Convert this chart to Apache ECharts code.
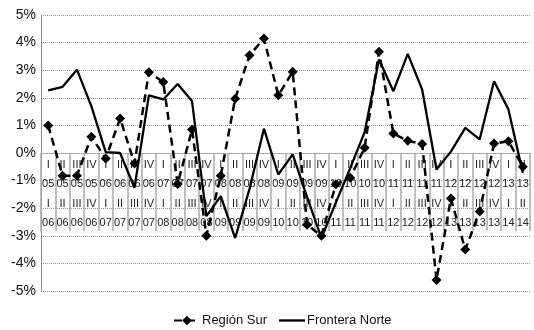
<!DOCTYPE html>
<html>
<head>
<meta charset="utf-8">
<script src="https://cdn.jsdelivr.net/npm/echarts@6/dist/echarts.min.js"></script>
<style>
  html, body { margin: 0; padding: 0; background: #fff; }
  #chart { width: 534px; height: 330px; }
</style>
</head>
<body>
<div id="chart"></div>
<script>
// trimestre / año (fila de arriba) y trimestre / año (fila de abajo)
var quarters = ['I','II','III','IV','I','II','III','IV','I','II','III','IV','I','II','III','IV','I','II','III','IV',
  'I','II','III','IV','I','II','III','IV','I','II','III','IV','I','II'];
var yearsFrom = ['05','05','05','05','06','06','06','06','07','07','07','07','08','08','08','08','09','09','09','09',
  '10','10','10','10','11','11','11','11','12','12','12','12','13','13'];
var yearsTo = ['06','06','06','06','07','07','07','07','08','08','08','08','09','09','09','09','10','10','10','10',
  '11','11','11','11','12','12','12','12','13','13','13','13','14','14'];

var regionSur = [1.0, -0.82, -0.82, 0.59, -0.2, 1.25, -0.38, 2.93, 2.57, -1.12, 0.85, -3.0, -0.82, 1.97, 3.54, 4.15,
  2.09, 2.94, -2.6, -3.0, -1.13, -0.9, 0.19, 3.67, 0.71, 0.44, 0.33, -4.6, -1.65, -3.5, -2.12, 0.34, 0.43, -0.5];
var fronteraNorte = [2.27, 2.4, 3.02, 1.7, 0.03, 0.0, -1.26, 2.09, 1.94, 2.5, 1.88, -2.29, -1.56, -3.08, -1.3, 0.88,
  -0.78, -0.05, -1.6, -3.08, -1.8, -0.55, 0.75, 3.39, 2.24, 3.59, 2.3, -0.6, 0.05, 0.91, 0.49, 2.6, 1.58, -0.72];

var categories = quarters.map(function (q, i) {
  return q + '\n' + yearsFrom[i] + '\n' + q + '\n' + yearsTo[i];
});

var chart = echarts.init(document.getElementById('chart'), null, { renderer: 'canvas' });

var option = {
  backgroundColor: '#ffffff',
  animation: false,
  textStyle: { fontFamily: 'Liberation Sans, Arial, sans-serif' },
  grid: {
    left: 41, right: 4, top: 15, bottom: 39,
    containLabel: false,
    outerBoundsMode: 'none'
  },
  legend: {
    top: 309,
    left: 168,
    itemWidth: 26,
    itemHeight: 12,
    itemGap: 12,
    textStyle: { fontSize: 13, color: '#111', padding: [0, 0, 0, -3] },
    data: [
      { name: 'Región Sur' },
      { name: 'Frontera Norte', icon: 'path://M0,0L26,0L26,2.4L0,2.4Z', itemStyle: { color: '#000' } }
    ]
  },
  xAxis: {
    type: 'category',
    data: categories,
    boundaryGap: true,
    position: 'bottom',
    offset: -138,  // la tabla de fechas cuelga de la línea del 0%
    axisLine: { onZero: false, lineStyle: { color: '#999', width: 1, type: 'dotted' } },
    axisTick: {
      show: true,
      interval: 0,
      length: 78,
      lineStyle: { color: '#aaa', width: 1.5 }
    },
    axisLabel: {
      interval: 0,
      margin: 2,
      fontSize: 11,
      lineHeight: 19.4,
      color: '#222',
      hideOverlap: false
    },
    splitLine: { show: false }
  },
  yAxis: {
    type: 'value',
    min: -5,
    max: 5,
    interval: 1,
    axisLine: { show: true, lineStyle: { color: '#888', width: 1 } },
    axisTick: { show: false },
    axisLabel: {
      formatter: '{value}%',
      fontSize: 14,
      color: '#111',
      margin: 5
    },
    splitLine: { show: true, lineStyle: { color: '#999', type: 'dotted', width: 1 } }
  },
  series: [
    {
      name: 'Región Sur',
      type: 'line',
      data: regionSur,
      symbol: 'diamond',
      symbolSize: 10,
      itemStyle: { color: '#000' },
      lineStyle: { color: '#000', width: 2.5, type: [8, 5] },
      z: 3
    },
    {
      name: 'Frontera Norte',
      type: 'line',
      data: fronteraNorte,
      symbol: 'none',
      itemStyle: { color: '#000' },
      lineStyle: { color: '#000', width: 2.3 },
      z: 2
    }
  ]
};

chart.setOption(option);
</script>
</body>
</html>
